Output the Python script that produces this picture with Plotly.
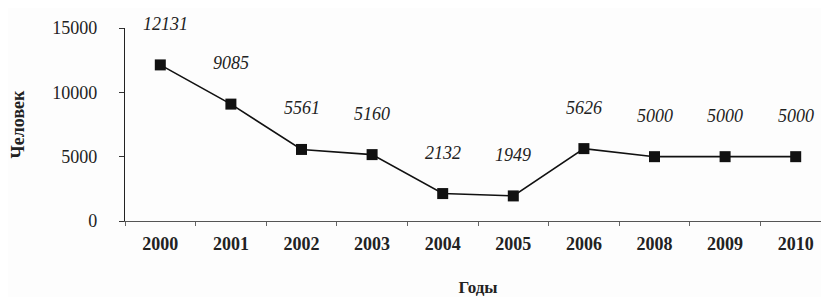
import plotly.graph_objects as go

years = ["2000", "2001", "2002", "2003", "2004", "2005", "2006", "2008", "2009", "2010"]
values = [12131, 9085, 5561, 5160, 2132, 1949, 5626, 5000, 5000, 5000]
y_ticks = [0, 5000, 10000, 15000]

FONT = "Liberation Serif"
idx = list(range(len(years)))
boundaries = [i - 0.5 for i in idx] + [len(years) - 0.5]

fig = go.Figure()
fig.add_trace(go.Scatter(
    x=idx, y=values, mode="lines+markers",
    line=dict(color="#111111", width=1.6),
    marker=dict(symbol="square", size=11, color="#111111"),
    cliponaxis=False, showlegend=False,
))

for i, v in zip(idx, values):
    fig.add_annotation(
        x=i, y=v, text=str(v), showarrow=False, yshift=41,
        xshift=5 if i == 0 else 0,
        font=dict(family=FONT, size=18, color="#222222", style="italic"),
    )

fig.update_layout(
    width=829, height=297,
    margin=dict(l=117, r=6, t=20, b=84),
    paper_bgcolor="#fdfdfd", plot_bgcolor="#fdfdfd",
    font=dict(family=FONT, color="#222222"),
)
fig.update_xaxes(
    range=[-0.5, len(years) - 0.5], tickvals=idx, ticktext=years,
    ticks="", tickangle=0, automargin=False,
    minor=dict(tickvals=boundaries, ticks="outside", ticklen=4, tickcolor="#666666", showgrid=False),
    showline=True, linecolor="#555555", linewidth=1,
    showgrid=False, zeroline=False, ticklabelstandoff=6,
    tickfont=dict(family=FONT, size=18, weight="bold", color="#222222"),
    title=dict(text="Годы", font=dict(family=FONT, size=17, weight="bold", color="#222222"), standoff=28),
)
fig.update_yaxes(
    range=[0, 15000], tickvals=y_ticks, ticktext=[str(t) for t in y_ticks],
    ticks="outside", ticklen=5, tickcolor="#333333", automargin=False,
    showline=True, linecolor="#222222", linewidth=1.2,
    showgrid=False, zeroline=False, ticklabelstandoff=18,
    tickfont=dict(family=FONT, size=18, color="#222222"),
    title=dict(text="Человек", font=dict(family=FONT, size=18, weight="bold", color="#222222"), standoff=22),
)

fig.write_html("out.html")
